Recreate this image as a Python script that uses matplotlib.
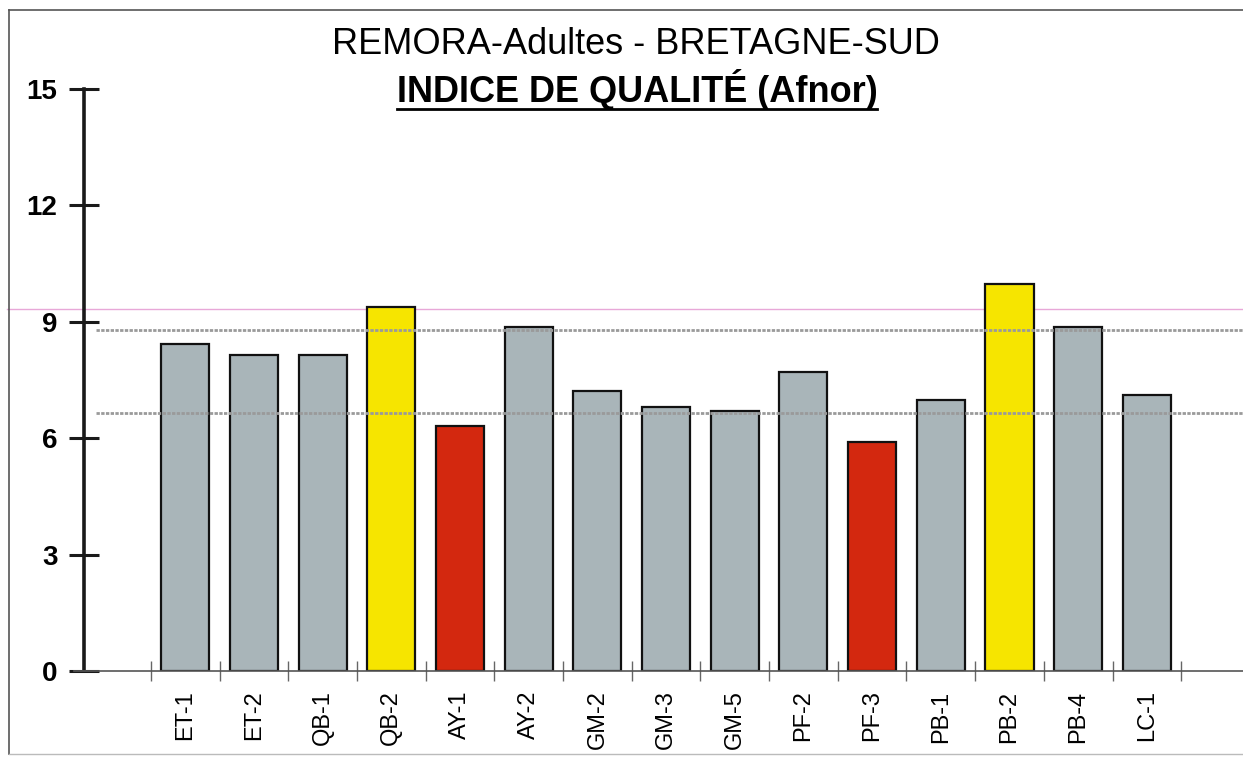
import matplotlib
matplotlib.use("Agg")
import matplotlib.pyplot as plt
from matplotlib.lines import Line2D
import numpy as np

categories = ["ET-1", "ET-2", "QB-1", "QB-2", "AY-1", "AY-2", "GM-2", "GM-3",
              "GM-5", "PF-2", "PF-3", "PB-1", "PB-2", "PB-4", "LC-1"]
values = [8.43, 8.14, 8.14, 9.38, 6.31, 8.87, 7.22, 6.80, 6.70, 7.71, 5.90,
          6.98, 9.97, 8.87, 7.11]
bar_colors = ["#a9b5b9", "#a9b5b9", "#a9b5b9", "#f6e500", "#d3280f", "#a9b5b9",
              "#a9b5b9", "#a9b5b9", "#a9b5b9", "#a9b5b9", "#d3280f", "#a9b5b9",
              "#f6e500", "#a9b5b9", "#a9b5b9"]
ref_lines = [8.78, 6.65]
pink_line = 9.33
yticks = [0, 3, 6, 9, 12, 15]

W, H = 1243, 759
fig = plt.figure(figsize=(W / 100, H / 100), dpi=100)
fig.patch.set_facecolor("white")

x0_px, y0_px, ytop_px = 84, 671, 89
ax = fig.add_axes([x0_px / W, (H - y0_px) / H, (W - x0_px) / W, (y0_px - ytop_px) / H])
ax.set_xlim(-1.475, 15.40)
ax.set_ylim(0, 15)
ax.patch.set_alpha(0)

x = np.arange(len(categories))
ax.bar(x, values, width=0.7, color=bar_colors, edgecolor="#111111", linewidth=1.6, zorder=2)

for v in ref_lines:
    ax.plot([-1.3, 15.4], [v, v], color="#9a9a9a", linewidth=2.0, linestyle=(0, (1.2, 0.5)),
            zorder=3, clip_on=False)
ax.plot([-2.6, 15.4], [pink_line, pink_line], color="#e8a8d8", linewidth=1.0, zorder=1,
        clip_on=False)

for s in ["top", "right", "bottom"]:
    ax.spines[s].set_visible(False)
ax.spines["left"].set_linewidth(2.6)
ax.spines["left"].set_color("#1a1a1a")

# x axis line
ax.plot([-1.62, 15.4], [0, 0], color="#555555", linewidth=1.2, clip_on=False, zorder=4)
# y-axis ticks
ax.set_yticks(yticks)
ax.set_yticklabels([str(t) for t in yticks], fontsize=20, fontweight="bold", family="Liberation Sans")
ax.tick_params(axis="y", direction="inout", length=22, width=2.2, color="#1a1a1a", pad=8)

# x ticks: labels at centers, tick marks at boundaries
ax.set_xticks(x)
ax.set_xticklabels(categories, rotation=90, fontsize=17, family="Liberation Sans")
ax.tick_params(axis="x", length=0, pad=14)
ax.set_xticks(np.arange(-0.5, len(categories) + 0.5, 1), minor=True)
ax.tick_params(axis="x", which="minor", direction="inout", length=14, width=1.0, color="#666666")

# titles
t1 = fig.text(636 / W, 1 - 45 / H, "REMORA-Adultes - BRETAGNE-SUD", ha="center", va="center",
              fontsize=26, family="Liberation Sans")
t2 = fig.text(637 / W, 1 - 90 / H, "INDICE DE QUALITÉ (Afnor)", ha="center", va="center",
              fontsize=26, fontweight="bold", family="Liberation Sans")
fig.canvas.draw()
bb = t2.get_window_extent(renderer=fig.canvas.get_renderer())
uy = bb.y0 + 2
fig.add_artist(Line2D([bb.x0 / W, bb.x1 / W], [uy / H, uy / H], transform=fig.transFigure,
                      color="black", linewidth=2.0))

# outer frame
frame_kw = dict(transform=fig.transFigure, color="#555555", linewidth=1.2)
fig.add_artist(Line2D([9 / W, 9 / W], [1 - 10 / H, 1 - 754 / H], **frame_kw))
fig.add_artist(Line2D([9 / W, 1.0], [1 - 10 / H, 1 - 10 / H], **frame_kw))
fig.add_artist(Line2D([9 / W, 1.0], [1 - 754 / H, 1 - 754 / H], color="#bbbbbb", linewidth=1.0,
                      transform=fig.transFigure))

fig.savefig("out.png", dpi=100, facecolor="white")
